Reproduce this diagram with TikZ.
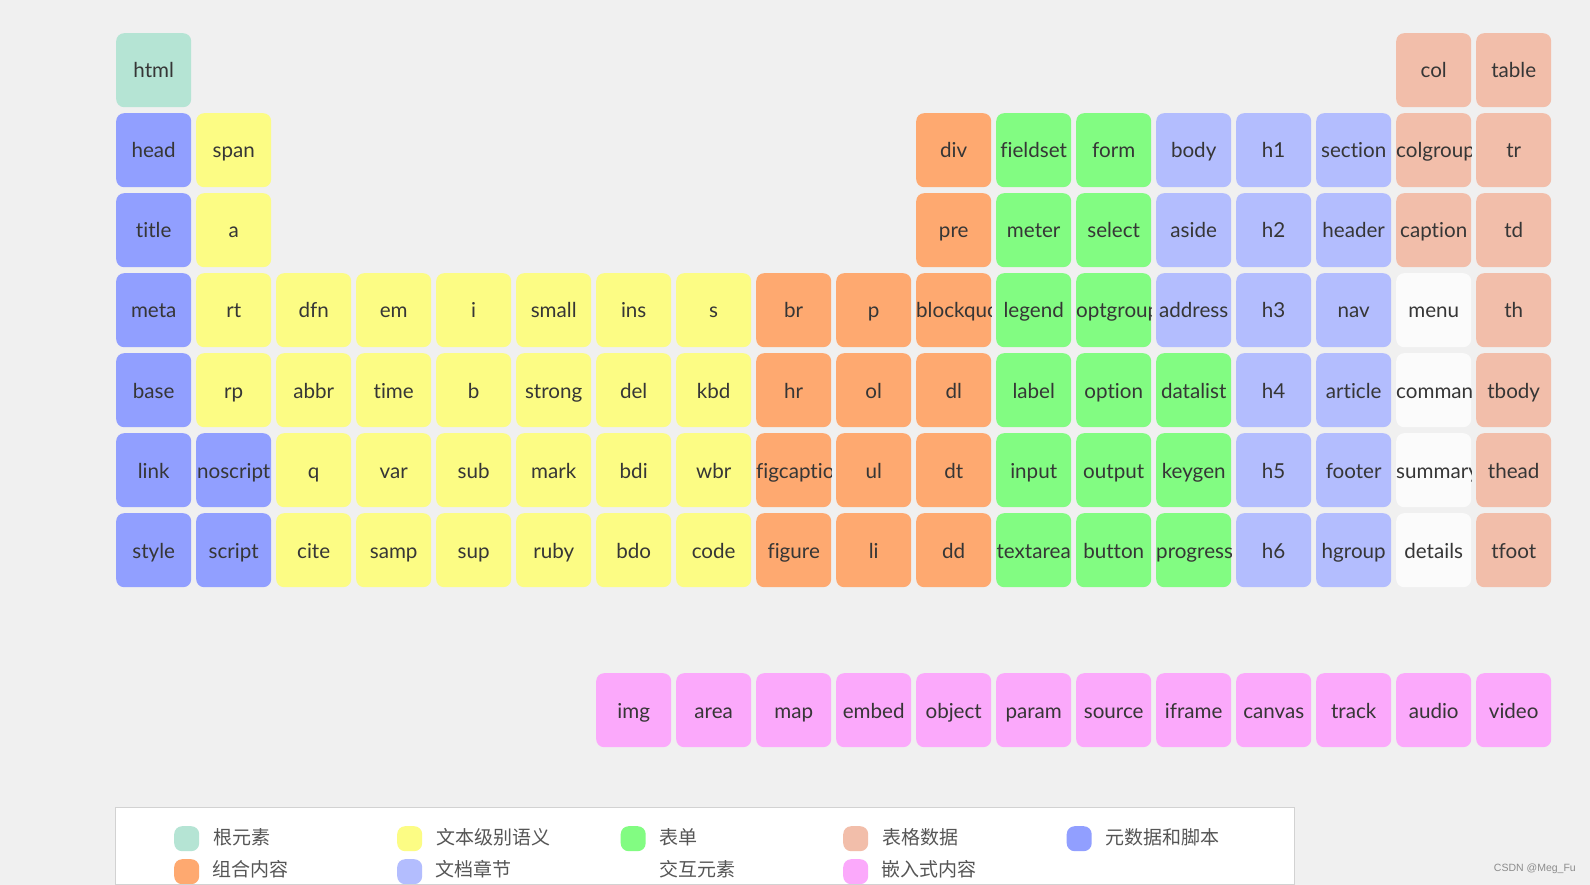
\documentclass[tikz,border=0pt]{standalone}
\usepackage{fontspec}
\setmainfont{Lato}[Ligatures=NoCommon]
\newfontfamily\cjk{Noto Sans CJK SC}
\newfontfamily\wmfont{Liberation Sans}
\hfuzz=2000pt \hbadness=10000
\definecolor{bg}{HTML}{F0F0F0}
\definecolor{croot}{HTML}{B5E4D4}
\definecolor{cmeta}{HTML}{919FFF}
\definecolor{ctext}{HTML}{FCFC84}
\definecolor{cgroup}{HTML}{FEA970}
\definecolor{cform}{HTML}{82FC82}
\definecolor{csect}{HTML}{B3BDFE}
\definecolor{ctable}{HTML}{F2BEAA}
\definecolor{cinter}{HTML}{FBFBFB}
\definecolor{cembed}{HTML}{FBA9FB}
\definecolor{ink}{HTML}{363636}
\definecolor{legink}{HTML}{555555}
\definecolor{legborder}{HTML}{D2D2D2}
\tikzset{
  cellst/.style={rounded corners=8pt, minimum width=75pt, minimum height=74pt, inner sep=0pt, draw=none},
  lblst/.style={inner sep=0pt, anchor=base, text=ink, font=\fontsize{20.6}{24}\selectfont},
  swatch/.style={rounded corners=8pt, minimum width=25pt, minimum height=25pt, inner sep=0pt, anchor=north west},
  legtext/.style={inner sep=0pt, anchor=west, text=legink, font=\cjk\fontsize{19}{22}\selectfont},
}
% #1 name, #2 column, #3 row, #4 colour, #5 text
\newcommand\cellbox[5]{%
  \node[cellst, fill=#4, anchor=north west] (c-#1) at ({116+80*#2},{33+80*#3}) {};
  \begin{scope}
    \clip[rounded corners=8pt] (c-#1.north west) rectangle (c-#1.south east);
    \node[lblst] (t-#1) at ($(c-#1.north)+(0,45)$) {\hbox to 75pt{\hfil #5\hfil}};
  \end{scope}}
\usetikzlibrary{calc}
\begin{document}
\begin{tikzpicture}[x=1pt,y=-1pt]
\useasboundingbox (0,0) rectangle (1590,885);
\fill[bg] (0,0) rectangle (1590,885);
% row 0
\cellbox{html}{0}{0}{croot}{html}
\cellbox{col}{16}{0}{ctable}{col}
\cellbox{table}{17}{0}{ctable}{table}
% row 1
\cellbox{head}{0}{1}{cmeta}{head}
\cellbox{span}{1}{1}{ctext}{span}
\cellbox{div}{10}{1}{cgroup}{div}
\cellbox{fieldset}{11}{1}{cform}{fieldset}
\cellbox{form}{12}{1}{cform}{form}
\cellbox{body}{13}{1}{csect}{body}
\cellbox{h1}{14}{1}{csect}{h1}
\cellbox{section}{15}{1}{csect}{section}
\cellbox{colgroup}{16}{1}{ctable}{colgroup}
\cellbox{tr}{17}{1}{ctable}{tr}
% row 2
\cellbox{title}{0}{2}{cmeta}{title}
\cellbox{a}{1}{2}{ctext}{a}
\cellbox{pre}{10}{2}{cgroup}{pre}
\cellbox{meter}{11}{2}{cform}{meter}
\cellbox{select}{12}{2}{cform}{select}
\cellbox{aside}{13}{2}{csect}{aside}
\cellbox{h2}{14}{2}{csect}{h2}
\cellbox{header}{15}{2}{csect}{header}
\cellbox{caption}{16}{2}{ctable}{caption}
\cellbox{td}{17}{2}{ctable}{td}
% row 3
\cellbox{meta}{0}{3}{cmeta}{meta}
\cellbox{rt}{1}{3}{ctext}{rt}
\cellbox{dfn}{2}{3}{ctext}{dfn}
\cellbox{em}{3}{3}{ctext}{em}
\cellbox{i}{4}{3}{ctext}{i}
\cellbox{small}{5}{3}{ctext}{small}
\cellbox{ins}{6}{3}{ctext}{ins}
\cellbox{s}{7}{3}{ctext}{s}
\cellbox{br}{8}{3}{cgroup}{br}
\cellbox{p}{9}{3}{cgroup}{p}
\cellbox{blockquote}{10}{3}{cgroup}{blockquote}
\cellbox{legend}{11}{3}{cform}{legend}
\cellbox{optgroup}{12}{3}{cform}{optgroup}
\cellbox{address}{13}{3}{csect}{address}
\cellbox{h3}{14}{3}{csect}{h3}
\cellbox{nav}{15}{3}{csect}{nav}
\cellbox{menu}{16}{3}{cinter}{menu}
\cellbox{th}{17}{3}{ctable}{th}
% row 4
\cellbox{base}{0}{4}{cmeta}{base}
\cellbox{rp}{1}{4}{ctext}{rp}
\cellbox{abbr}{2}{4}{ctext}{abbr}
\cellbox{time}{3}{4}{ctext}{time}
\cellbox{b}{4}{4}{ctext}{b}
\cellbox{strong}{5}{4}{ctext}{strong}
\cellbox{del}{6}{4}{ctext}{del}
\cellbox{kbd}{7}{4}{ctext}{kbd}
\cellbox{hr}{8}{4}{cgroup}{hr}
\cellbox{ol}{9}{4}{cgroup}{ol}
\cellbox{dl}{10}{4}{cgroup}{dl}
\cellbox{label}{11}{4}{cform}{label}
\cellbox{option}{12}{4}{cform}{option}
\cellbox{datalist}{13}{4}{cform}{datalist}
\cellbox{h4}{14}{4}{csect}{h4}
\cellbox{article}{15}{4}{csect}{article}
\cellbox{command}{16}{4}{cinter}{command}
\cellbox{tbody}{17}{4}{ctable}{tbody}
% row 5
\cellbox{link}{0}{5}{cmeta}{link}
\cellbox{noscript}{1}{5}{cmeta}{noscript}
\cellbox{q}{2}{5}{ctext}{q}
\cellbox{var}{3}{5}{ctext}{var}
\cellbox{sub}{4}{5}{ctext}{sub}
\cellbox{mark}{5}{5}{ctext}{mark}
\cellbox{bdi}{6}{5}{ctext}{bdi}
\cellbox{wbr}{7}{5}{ctext}{wbr}
\cellbox{figcaption}{8}{5}{cgroup}{figcaption}
\cellbox{ul}{9}{5}{cgroup}{ul}
\cellbox{dt}{10}{5}{cgroup}{dt}
\cellbox{input}{11}{5}{cform}{input}
\cellbox{output}{12}{5}{cform}{output}
\cellbox{keygen}{13}{5}{cform}{keygen}
\cellbox{h5}{14}{5}{csect}{h5}
\cellbox{footer}{15}{5}{csect}{footer}
\cellbox{summary}{16}{5}{cinter}{summary}
\cellbox{thead}{17}{5}{ctable}{thead}
% row 6
\cellbox{style}{0}{6}{cmeta}{style}
\cellbox{script}{1}{6}{cmeta}{script}
\cellbox{cite}{2}{6}{ctext}{cite}
\cellbox{samp}{3}{6}{ctext}{samp}
\cellbox{sup}{4}{6}{ctext}{sup}
\cellbox{ruby}{5}{6}{ctext}{ruby}
\cellbox{bdo}{6}{6}{ctext}{bdo}
\cellbox{code}{7}{6}{ctext}{code}
\cellbox{figure}{8}{6}{cgroup}{figure}
\cellbox{li}{9}{6}{cgroup}{li}
\cellbox{dd}{10}{6}{cgroup}{dd}
\cellbox{textarea}{11}{6}{cform}{textarea}
\cellbox{button}{12}{6}{cform}{button}
\cellbox{progress}{13}{6}{cform}{progress}
\cellbox{h6}{14}{6}{csect}{h6}
\cellbox{hgroup}{15}{6}{csect}{hgroup}
\cellbox{details}{16}{6}{cinter}{details}
\cellbox{tfoot}{17}{6}{ctable}{tfoot}
% embedded row
\cellbox{img}{6}{8}{cembed}{img}
\cellbox{area}{7}{8}{cembed}{area}
\cellbox{map}{8}{8}{cembed}{map}
\cellbox{embed}{9}{8}{cembed}{embed}
\cellbox{object}{10}{8}{cembed}{object}
\cellbox{param}{11}{8}{cembed}{param}
\cellbox{source}{12}{8}{cembed}{source}
\cellbox{iframe}{13}{8}{cembed}{iframe}
\cellbox{canvas}{14}{8}{cembed}{canvas}
\cellbox{track}{15}{8}{cembed}{track}
\cellbox{audio}{16}{8}{cembed}{audio}
\cellbox{video}{17}{8}{cembed}{video}
% legend
\node[draw=legborder, fill=white, line width=1pt, minimum width=1179pt, minimum height=77pt, inner sep=0pt, anchor=north west] (legend) at (115,807) {};
\node[swatch, fill=croot]  (s1) at (174,826) {};
\node[legtext] (l1) at ($(s1.east)+(13.5,-1.5)$) {根元素};
\node[swatch, fill=ctext]  (s2) at (397,826) {};
\node[legtext] (l2) at ($(s2.east)+(13.5,-1.5)$) {文本级别语义};
\node[swatch, fill=cform]  (s3) at (620.5,826) {};
\node[legtext] (l3) at ($(s3.east)+(13.5,-1.5)$) {表单};
\node[swatch, fill=ctable] (s4) at (843,826) {};
\node[legtext] (l4) at ($(s4.east)+(13.5,-1.5)$) {表格数据};
\node[swatch, fill=cmeta]  (s5) at (1066.5,826) {};
\node[legtext] (l5) at ($(s5.east)+(13.5,-1.5)$) {元数据和脚本};
\begin{scope}
\clip (115,807) rectangle (1294,883.5);
\node[swatch, fill=cgroup] (s6) at (174,859) {};
\node[swatch, fill=csect]  (s7) at (397,859) {};
\node[swatch, fill=white]  (s8) at (620.5,859) {};
\node[swatch, fill=cembed] (s9) at (843,859) {};
\end{scope}
\node[legtext] (l6) at (212.5,869.5) {组合内容};
\node[legtext] (l7) at (435.5,869.5) {文档章节};
\node[legtext] (l8) at (659,869.5) {交互元素};
\node[legtext] (l9) at (881.5,869.5) {嵌入式内容};
% watermark
\node[inner sep=0pt, anchor=east, text=black!45, font=\wmfont\fontsize{10.5}{12}\selectfont] (wm) at (1576,869) {CSDN @Meg\_Fu};
\end{tikzpicture}
\end{document}
